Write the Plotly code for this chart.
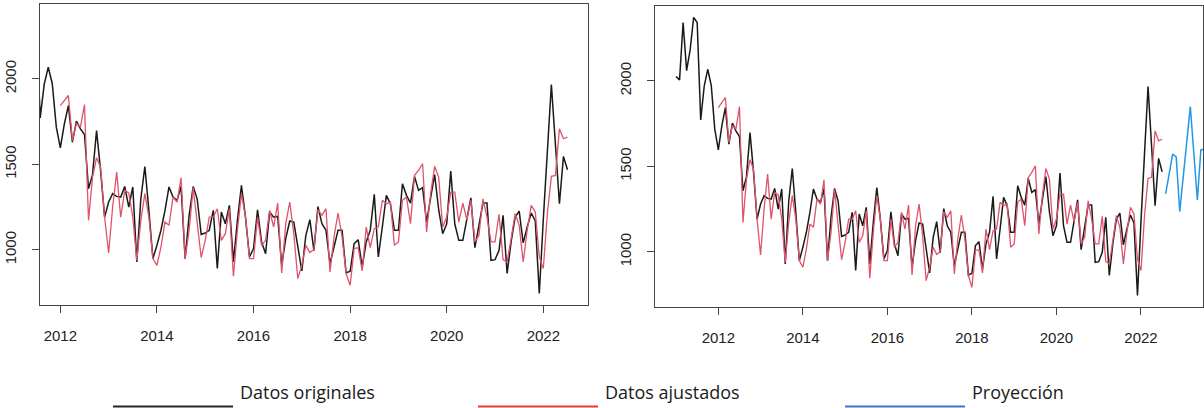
import plotly.graph_objects as go

# ---------------- data (monthly series) ----------------
orig_start = 2011.0  # Jan 2011
orig = [
    2025, 2006, 2341, 2060, 2181, 2372, 2341, 1772, 1970, 2068, 1972, 1718,  # 2011
    1597, 1737, 1844, 1630, 1753, 1708, 1675, 1358, 1440, 1698, 1465, 1192,  # 2012
    1280, 1329, 1313, 1309, 1371, 1251, 1368, 930, 1299, 1488, 1231, 949,    # 2013
    1027, 1115, 1231, 1368, 1309, 1290, 1371, 949, 1202, 1371, 1299, 1091,   # 2014
    1099, 1115, 1231, 891, 1222, 1153, 1261, 930, 1173, 1377, 1192, 959,     # 2015
    1008, 1235, 1047, 978, 1222, 1192, 1196, 910, 1066, 1169, 1163, 1008,    # 2016
    877, 1085, 1177, 996, 1253, 1153, 1115, 920, 1017, 1115, 1115, 865,      # 2017
    875, 1037, 1060, 900, 1047, 1115, 1325, 959, 1134, 1319, 1270, 1115,     # 2018
    1115, 1387, 1319, 1274, 1430, 1348, 1364, 1163, 1305, 1441, 1235, 1095,  # 2019
    1153, 1461, 1153, 1056, 1056, 1192, 1305, 1013, 1144, 1274, 1274, 939,   # 2020
    943, 998, 1202, 862, 1047, 1192, 1227, 1041, 1134, 1216, 1169, 745,      # 2021
    1180, 1575, 1967, 1620, 1270, 1547, 1469,                                # 2022
]

fit_start = 2012.0  # Jan 2012
fit = [
    1844, 1874, 1903, 1640, 1740, 1718, 1850, 1173, 1426, 1539, 1484, 1192,  # 2012
    982, 1251, 1455, 1192, 1348, 1333, 1192, 939, 1173, 1329, 1192, 949,     # 2013
    910, 1017, 1163, 1144, 1309, 1280, 1422, 949, 1115, 1364, 1163, 955,     # 2014
    1056, 1192, 1192, 1241, 1056, 1095, 1241, 846, 1115, 1329, 1192, 949,    # 2015
    949, 1192, 1027, 1056, 1231, 1134, 1274, 865, 1153, 1280, 1095, 832,     # 2016
    910, 1027, 985, 1003, 1235, 1202, 1241, 871, 1076, 1216, 1076, 862,      # 2017
    793, 1008, 1013, 877, 1134, 1013, 1124, 1134, 1290, 1270, 1280, 1027,    # 2018
    1047, 1290, 1309, 1153, 1436, 1465, 1504, 1105, 1329, 1488, 1426, 1134,  # 2019
    1192, 1338, 1338, 1163, 1274, 1177, 1290, 1047, 1085, 1299, 1192, 1047,  # 2020
    1047, 1208, 943, 930, 1066, 1212, 1144, 930, 1115, 1261, 1222, 959,      # 2021
    891, 1212, 1430, 1436, 1708, 1650, 1659,                                 # 2022
]

proj_start = 2022 + 7 / 12  # Aug 2022
proj = [1339, 1456, 1573, 1554, 1236, 1440, 1645, 1850, 1577, 1304, 1596, 1600]

x_ticks = [2012, 2014, 2016, 2018, 2020, 2022]
y_ticks = [1000, 1500, 2000]
legend_labels = ["Datos originales", "Datos ajustados", "Proyección"]

# ---------------- styles ----------------
C_ORIG = "#1a1a1a"
C_FIT = "#DF536B"
C_PROJ = "#2297E6"
W, H = 1204, 408


def months(start, n):
    return [start + i / 12 for i in range(n)]


fig = go.Figure()

for xa, ya in (("x", "y"), ("x2", "y2")):
    fig.add_trace(go.Scatter(x=months(orig_start, len(orig)), y=orig, mode="lines",
                             line=dict(color=C_ORIG, width=1.5), name=legend_labels[0],
                             xaxis=xa, yaxis=ya, showlegend=False))
    fig.add_trace(go.Scatter(x=months(fit_start, len(fit)), y=fit, mode="lines",
                             line=dict(color=C_FIT, width=1.3), name=legend_labels[1],
                             xaxis=xa, yaxis=ya, showlegend=False))

fig.add_trace(go.Scatter(x=months(proj_start, len(proj)), y=proj, mode="lines",
                         line=dict(color=C_PROJ, width=1.5), name=legend_labels[2],
                         xaxis="x2", yaxis="y2", showlegend=False))

tickfont = dict(family="Liberation Sans, Arial, sans-serif", size=15, color="#222")
axis_common = dict(showgrid=False, zeroline=False, showline=True, mirror=True,
                   linecolor="#444", linewidth=1.3, ticks="outside", ticklen=7,
                   tickcolor="#444", tickwidth=1.3, tickfont=tickfont)

fig.update_layout(
    width=W, height=H,
    margin=dict(l=0, r=0, t=0, b=0),
    paper_bgcolor="white", plot_bgcolor="white",
    xaxis=dict(domain=[40 / W, 588 / W], range=[2011.579, 2022.925], anchor="y",
               tickvals=x_ticks, ticktext=[str(v) for v in x_ticks],
               ticklabelstandoff=10, **axis_common),
    yaxis=dict(domain=[1 - 305 / H, 1 - 4 / H], range=[678, 2438], anchor="x",
               tickvals=y_ticks, ticktext=[str(v) for v in y_ticks], tickangle=-90,
               ticklabelstandoff=10, **axis_common),
    xaxis2=dict(domain=[655 / W, 1203 / W], range=[2010.502, 2023.467], anchor="y2",
                tickvals=x_ticks, ticktext=[str(v) for v in x_ticks],
                ticklabelstandoff=10, **axis_common),
    yaxis2=dict(domain=[1 - 307 / H, 1 - 6 / H], range=[678, 2438], anchor="x2",
                tickvals=y_ticks, ticktext=[str(v) for v in y_ticks], tickangle=-90,
                ticklabelstandoff=10, **axis_common),
)

# ---------------- custom legend below the panels ----------------
legend_items = [
    (113, 233, "#262626", 238),
    (478, 598, "#E8392F", 603),
    (845, 965, "#4472C4", 970),
]
for (x0, x1, col, tx), label in zip(legend_items, legend_labels):
    fig.add_shape(type="line", xref="paper", yref="paper",
                  x0=x0 / W, x1=x1 / W, y0=1 - 406.5 / H, y1=1 - 406.5 / H,
                  line=dict(color=col, width=2))
    fig.add_annotation(xref="paper", yref="paper", x=tx / W, y=1 - 392 / H,
                       xanchor="left", yanchor="middle", showarrow=False, text=label,
                       font=dict(family="Open Sans, sans-serif", size=18, color="#1a1a1a"))

fig.write_html("out.html", config={"displayModeBar": False},
               post_script="document.body.style.margin='0';document.body.style.overflow='hidden';")
